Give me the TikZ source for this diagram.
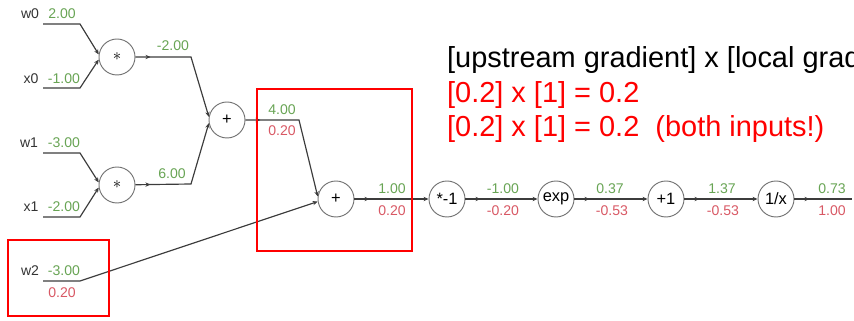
\documentclass[tikz,border=0pt]{standalone}
\usepackage{fontspec}
\setmainfont{Liberation Sans}
\usetikzlibrary{arrows.meta}
\usetikzlibrary{decorations.markings}
\definecolor{fwdgreen}{RGB}{104,164,84}
\definecolor{bwdred}{RGB}{216,88,100}
\definecolor{wiregray}{RGB}{60,60,60}

\begin{document}
\begin{tikzpicture}[
    x=0.03cm, y=-0.03cm,
    gate/.style={circle, draw=gray!90!black, line width=0.8pt, minimum size=1.08cm,
        inner sep=0pt, font=\fontsize{14}{16}\selectfont},
    varname/.style={font=\fontsize{12}{14}\selectfont, text=black!80},
    fwd/.style={font=\fontsize{12}{14}\selectfont, text=fwdgreen},
    bwd/.style={font=\fontsize{12}{14}\selectfont, text=bwdred},
    wire/.style={draw=wiregray, line width=1pt,
        -{Stealth[length=1.5mm,width=1.3mm]}},
    flow arrow/.style={wire,
        postaction={decorate},
        decoration={
            markings,
            mark=at position 0.45cm with {\arrow[wiregray]{Stealth[length=1.5mm,width=1.3mm]}}
        }
    },
    hilite/.style={draw=red, line width=1.7pt},
    note/.style={anchor=base west, font=\fontsize{24.7}{30}\selectfont}
]
\clip (0,0) rectangle (854,321);

% gates
\node[gate] (mul0) at (117,57) {$\ast$};
\node[gate] (mul1) at (117,185) {$\ast$};
\node[gate] (add0) at (227,120) {+};
\node[gate] (add1) at (336,199) {+};
\node[gate] (neg) at (447,199) {*-1};
\node[gate] (expo) at (556,199) {exp};
\node[gate] (inc) at (666,199) {+1};
\node[gate] (inv) at (776,199) {1/x};

% inputs
\node[varname] (w0) at (30,14) {w0};
\node[varname] (x0) at (31,79) {x0};
\node[varname] (w1) at (29,143) {w1};
\node[varname] (x1) at (31,207) {x1};
\node[varname] (w2) at (30,271) {w2};

\coordinate (w0-start) at (43,24);
\coordinate (w0-bend) at (80,24);
\coordinate (x0-start) at (43,88);
\coordinate (x0-bend) at (80,88);
\coordinate (w1-start) at (43,153);
\coordinate (w1-bend) at (80,153);
\coordinate (x1-start) at (43,217);
\coordinate (x1-bend) at (80,217);
\coordinate (w2-start) at (43,281);
\coordinate (w2-bend) at (80,281);

\draw[wire] (w0-start) -- (w0-bend) -- (mul0.172);
\draw[wire] (x0-start) -- (x0-bend) -- (mul0.188);
\draw[wire] (w1-start) -- (w1-bend) -- (mul1.172);
\draw[wire] (x1-start) -- (x1-bend) -- (mul1.188);
\draw[wire] (w2-start) -- (w2-bend) -- (add1.188);

% gate to gate
\coordinate (m0-bend) at (191,57);
\coordinate (m1-bend) at (191,184);
\coordinate (a0-bend) at (299,120);
\coordinate (out-end) at (852,199);

\draw[flow arrow] (mul0) -- (m0-bend) -- (add0.170);
\draw[flow arrow] (mul1) -- (m1-bend) -- (add0.190);
\draw[flow arrow] (add0) -- (a0-bend) -- (add1.172);
\draw[flow arrow] (add1) -- (neg);
\draw[flow arrow] (neg) -- (expo);
\draw[flow arrow] (expo) -- (inc);
\draw[flow arrow] (inc) -- (inv);
\draw[flow arrow, -] (inv) -- (out-end);

% forward values
\node[fwd] (v-w0) at (62,14) {2.00};
\node[fwd] (v-x0) at (64,79) {-1.00};
\node[fwd] (v-w1) at (64,143) {-3.00};
\node[fwd] (v-x1) at (64,207) {-2.00};
\node[fwd] (v-w2) at (64,271) {-3.00};
\node[fwd] (v-mul0) at (173,46) {-2.00};
\node[fwd] (v-mul1) at (172,174) {6.00};
\node[fwd] (v-add0) at (282,110) {4.00};
\node[fwd] (v-add1) at (392,189) {1.00};
\node[fwd] (v-neg) at (503,189) {-1.00};
\node[fwd] (v-exp) at (610,189) {0.37};
\node[fwd] (v-inc) at (722,189) {1.37};
\node[fwd] (v-inv) at (832,189) {0.73};

% gradients
\node[bwd] (g-w2) at (62,293) {0.20};
\node[bwd] (g-add0) at (282,131) {0.20};
\node[bwd] (g-add1) at (392,211) {0.20};
\node[bwd] (g-neg) at (503,211) {-0.20};
\node[bwd] (g-exp) at (612,211) {-0.53};
\node[bwd] (g-inc) at (723,211) {-0.53};
\node[bwd] (g-inv) at (832,211) {1.00};

% highlight boxes
\draw[hilite] (257,89) rectangle (412,251);
\draw[hilite] (8,240) rectangle (109,316);

% chain rule note
\node[note] (rule) at (443,68) {[upstream gradient] x [local gradient]};
\node[note, text=red] (rule-a) at (443,103) {[0.2] x [1] = 0.2};
\node[note, text=red] (rule-b) at (443,137) {[0.2] x [1] = 0.2\ \ (both inputs!)};
\end{tikzpicture}
\end{document}
